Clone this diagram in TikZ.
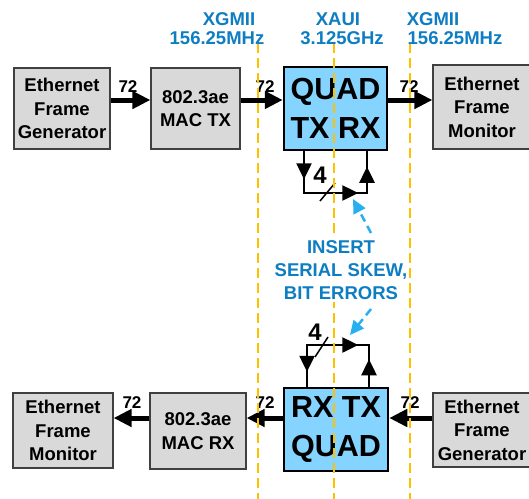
\documentclass[tikz,border=0pt]{standalone}
\usepackage{fontspec}
\setmainfont{Liberation Sans}
\usetikzlibrary{arrows.meta,decorations.markings}
\definecolor{lblblue}{RGB}{14,125,194}
\definecolor{arrblue}{RGB}{40,175,240}
\definecolor{quadblue}{RGB}{133,211,255}
\definecolor{boxgray}{RGB}{217,217,217}
\definecolor{dashyellow}{RGB}{255,192,0}
\tikzset{
  graybox/.style={draw=black!75, fill=boxgray, line width=1.2pt, inner sep=0pt, align=center,
    font=\fontsize{18.5}{23.5}\selectfont\bfseries},
  quadbox/.style={draw=black, fill=quadblue, line width=2.5pt, inner sep=0pt, align=center,
    font=\fontsize{30.5}{39}\selectfont\bfseries},
  bigarrow/.style={line width=5pt, -{Triangle[length=18pt 0 0,width=17pt 0 0]}},
  buslbl/.style={font=\fontsize{17}{18}\selectfont\bfseries, inner sep=0pt},
  toplbl/.style={font=\fontsize{18.5}{19}\selectfont\bfseries, text=lblblue, inner sep=0pt},
  looppath/.style={line width=2.5pt},
  tipmark/.tip={Triangle[length=16pt 0 0,width=15pt 0 0]},
  ydash/.style={draw=dashyellow, line width=2pt, dash pattern=on 10pt off 5pt},
  bluearrow/.style={draw=arrblue, line width=2.5pt, dash pattern=on 8pt off 5pt,
    -{Triangle[length=14pt 0 0,width=13pt 0 0]}},
  fourlbl/.style={font=\fontsize{24}{25}\selectfont\bfseries, inner sep=0pt},
}
\begin{document}
\begin{tikzpicture}[x=1pt,y=-1pt]
\useasboundingbox (0,0) rectangle (529,498);
\clip (0,0) rectangle (529,498);

% top row boxes
\node[graybox, minimum width=96pt, minimum height=81pt] (gen1) at (62,108.5) {Ethernet\\Frame\\Generator};
\node[graybox, minimum width=89pt, minimum height=81pt] (mactx) at (195.5,108.5) {802.3ae\\MAC TX};
\node[quadbox, minimum width=103pt, minimum height=83pt] (quad1) at (335.5,108.5) {QUAD\\TX RX};
\node[graybox, minimum width=98pt, minimum height=84pt] (mon1) at (482,107) {Ethernet\\Frame\\Monitor};

% bottom row boxes
\node[graybox, minimum width=100pt, minimum height=75pt] (mon2) at (63,430.5) {Ethernet\\Frame\\Monitor};
\node[graybox, minimum width=96pt, minimum height=76pt] (macrx) at (198,431) {802.3ae\\MAC RX};
\node[quadbox, minimum width=104pt, minimum height=83pt] (quad2) at (336,429.5) {RX TX\\QUAD};
\node[graybox, minimum width=98pt, minimum height=74pt] (gen2) at (482,430) {Ethernet\\Frame\\Generator};

% bus arrows
\coordinate (ytop) at (0,100);
\coordinate (ybot) at (0,418);
\draw[bigarrow] (gen1.east |- ytop) -- (mactx.west |- ytop);
\draw[bigarrow] (mactx.east |- ytop) -- (quad1.west |- ytop);
\draw[bigarrow] (quad1.east |- ytop) -- (mon1.west |- ytop);
\draw[bigarrow] (gen2.west |- ybot) -- (quad2.east |- ybot);
\draw[bigarrow] (quad2.west |- ybot) -- (macrx.east |- ybot);
\draw[bigarrow] (macrx.west |- ybot) -- (mon2.east |- ybot);

\node[buslbl] (l72a) at (128,87) {72};
\node[buslbl] (l72b) at (265,87) {72};
\node[buslbl] (l72c) at (409,87) {72};
\node[buslbl] (l72d) at (132,403) {72};
\node[buslbl] (l72e) at (265,403) {72};
\node[buslbl] (l72f) at (410,403) {72};

% top loop
\coordinate (ta) at ([xshift=-31.5pt]quad1.south);
\coordinate (tb) at ([xshift=31.5pt]quad1.south);
\coordinate (tc) at (0,193);
\draw[looppath, postaction={decorate}, decoration={markings,
    mark=at position 28pt with {\arrow{tipmark}},
    mark=at position 96pt with {\arrow{tipmark}},
    mark=at position 131pt with {\arrow{tipmark}}}]
  (ta) -- (ta |- tc) -- (tb |- tc) -- (tb);
\draw[line width=1.5pt] (320,201) -- (335,183);
\node[fourlbl] (four1) at (320,175) {4};

% bottom loop
\coordinate (ba) at ([xshift=-29pt]quad2.north);
\coordinate (bb) at ([xshift=33pt]quad2.north);
\coordinate (bc) at (0,345);
\draw[looppath, postaction={decorate}, decoration={markings,
    mark=at position 15pt with {\arrowreversed{tipmark}},
    mark=at position 93pt with {\arrow{tipmark}},
    mark=at position 118pt with {\arrowreversed{tipmark}}}]
  (ba) -- (ba |- bc) -- (bb |- bc) -- (bb);
\draw[line width=1.5pt] (315,357) -- (328,337);
\node[fourlbl] (four2) at (315,332) {4};

% yellow dashed boundaries
\draw[ydash] (258,43) -- (258,500);
\draw[ydash] (334,43) -- (334,500);
\draw[ydash] (410,43) -- (410,500);

% centre note
\node[fill=white, inner sep=2pt, align=center, text=lblblue,
  font=\fontsize{18.5}{23}\selectfont\bfseries] (note) at (341,270) {INSERT\\SERIAL SKEW,\\BIT ERRORS};
\coordinate (n1) at (371,233);
\coordinate (s1) at (353,199);
\coordinate (n2) at (371,309);
\coordinate (s2) at (350,335);
\draw[bluearrow] (n1) -- (s1);
\draw[bluearrow] (n2) -- (s2);

% top labels
\node[toplbl] (x1a) at (229,19.5) {XGMII};
\node[toplbl] (x1b) at (217,38.5) {156.25MHz};
\node[toplbl] (x2a) at (338,19.5) {XAUI};
\node[toplbl] (x2b) at (342,38.5) {3.125GHz};
\node[toplbl] (x3a) at (433,19.5) {XGMII};
\node[toplbl] (x3b) at (455,38.5) {156.25MHz};
\end{tikzpicture}
\end{document}
